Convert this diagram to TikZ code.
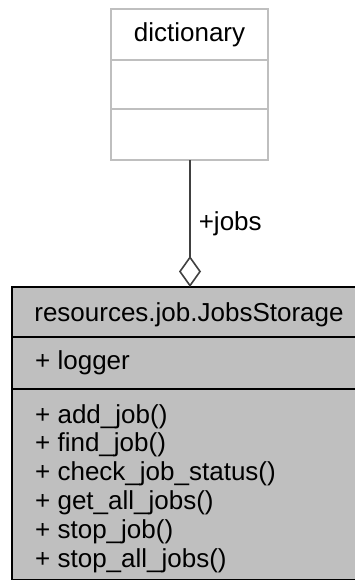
\documentclass[tikz,border=0pt]{standalone}
\usepackage{fontspec}
\setmainfont{Liberation Sans}
\usetikzlibrary{arrows.meta}
\definecolor{boxgray}{HTML}{BFBFBF}
\definecolor{edgegray}{HTML}{404040}
\begin{document}
\begin{tikzpicture}[x=1pt,y=-1pt,
  dictpart/.style={draw=boxgray, line width=1.3pt, fill=white, minimum width=157pt, inner sep=0pt, outer sep=0pt},
  jobpart/.style={draw=black, line width=1.3pt, fill=boxgray, minimum width=354pt, inner sep=0pt, outer sep=0pt},
  lbl/.style={text=black, inner sep=0pt, font=\fontsize{26}{29}\selectfont},
]
\useasboundingbox (0,0) rectangle (355,580);
\begin{scope}
\clip (0,0) rectangle (355,580);
% dictionary
\node[dictpart, minimum height=51pt, anchor=north] (dname) at (189.5,9) {};
\node[lbl] (dtext) at (dname.center) {dictionary};
\node[dictpart, minimum height=49pt, anchor=north] (dattr) at (dname.south) {};
\node[dictpart, minimum height=51pt, anchor=north] (dmeth) at (dattr.south) {};
% JobsStorage
\node[jobpart, minimum height=50pt, anchor=north] (jname) at (189,287) {};
\node[lbl, anchor=base] (jtext) at (189,321) {resources.job.JobsStorage};
\node[jobpart, minimum height=52pt, anchor=north] (jattr) at (jname.south) {};
\node[lbl, anchor=base west] (jattrtext) at (35,369) {+ logger};
\node[jobpart, minimum height=191pt, anchor=north] (jmeth) at (jattr.south) {};
\node[lbl, anchor=base west] (m1) at (35,423) {+ add\_job()};
\node[lbl, anchor=base west] (m2) at (35,451.8) {+ find\_job()};
\node[lbl, anchor=base west] (m3) at (35,480.6) {+ check\_job\_status()};
\node[lbl, anchor=base west] (m4) at (35,509.4) {+ get\_all\_jobs()};
\node[lbl, anchor=base west] (m5) at (35,538.2) {+ stop\_job()};
\node[lbl, anchor=base west] (m6) at (35,567) {+ stop\_all\_jobs()};
% aggregation
\coordinate (dtop) at (190,287);
\draw[edgegray, line width=1.6pt, {Diamond[open, length=31pt, width=22pt, line width=1.6pt]}-] (dtop) -- (dmeth.south -| dtop) node[pos=0.5, lbl, right=8pt] (joblbl) {+jobs};
\end{scope}
\end{tikzpicture}
\end{document}
